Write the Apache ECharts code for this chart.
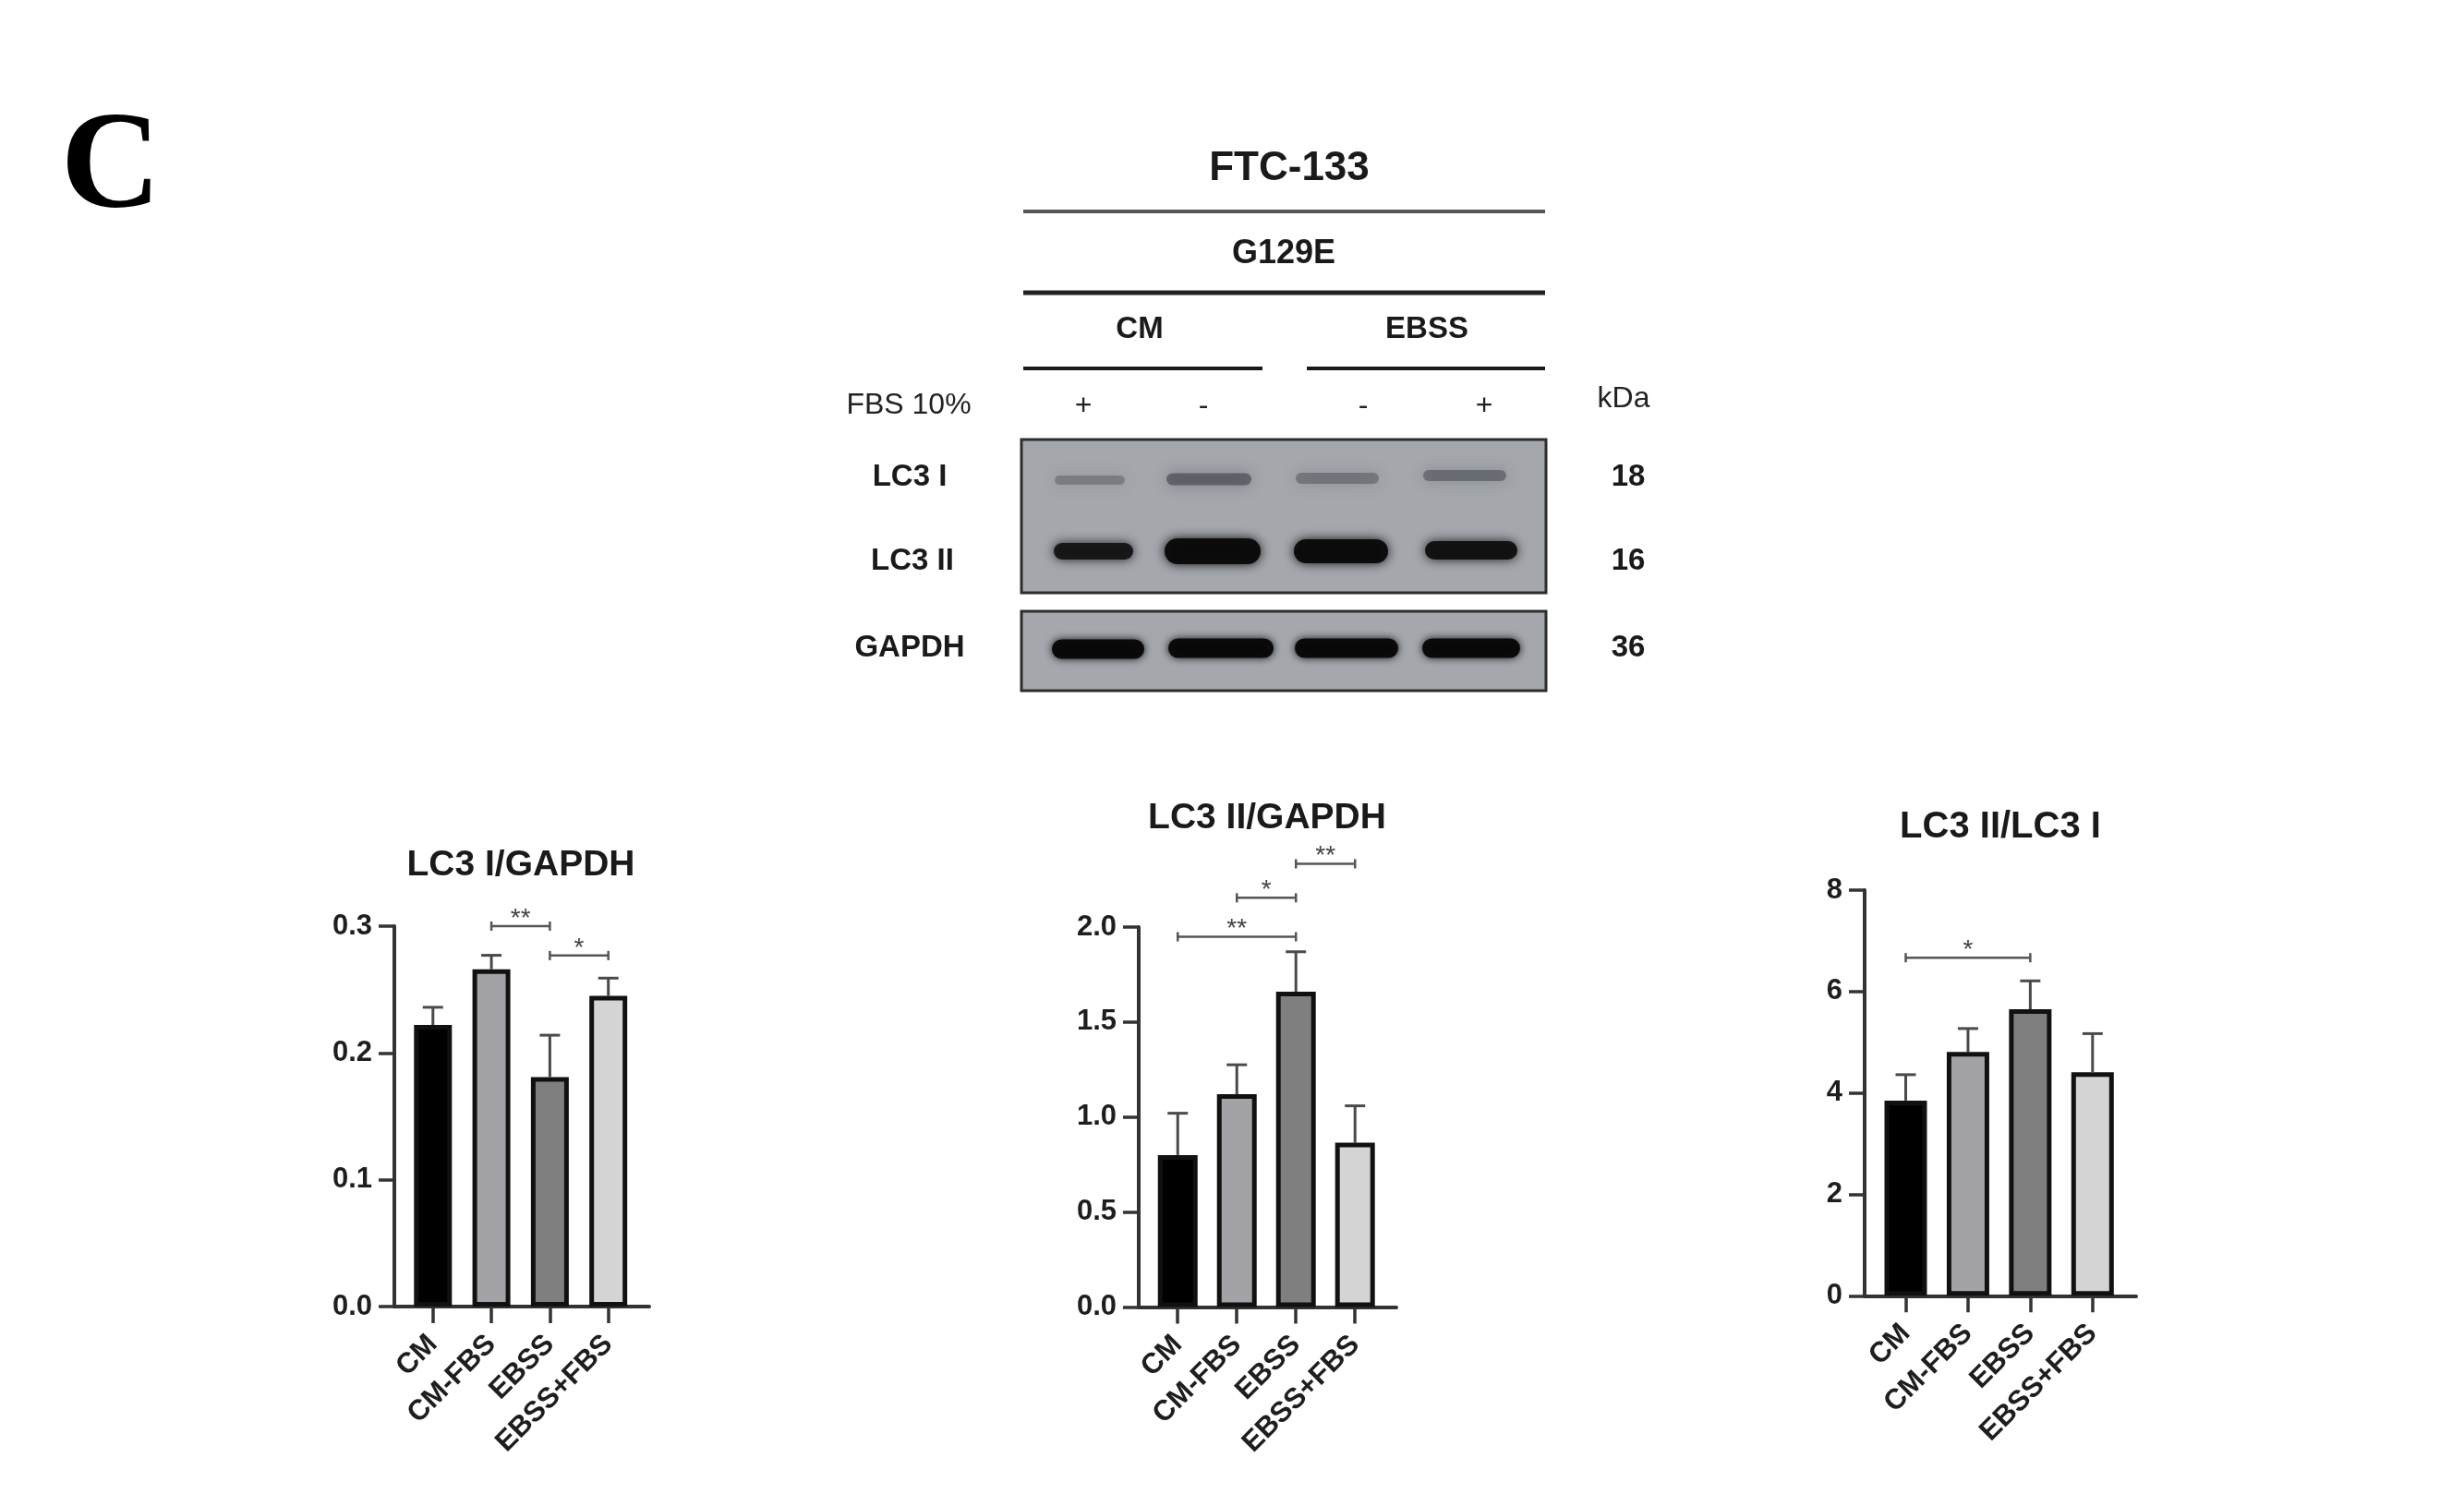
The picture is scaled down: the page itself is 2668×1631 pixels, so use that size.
<!DOCTYPE html>
<html><head><meta charset="utf-8">
<script src="https://cdn.jsdelivr.net/npm/echarts@6/dist/echarts.min.js"></script>
<style>html,body{margin:0;padding:0;background:#fff}#c{width:2668px;height:1631px}</style>
</head><body><div id="c"></div>
<script>
// ---- data ----
const categories = ['CM', 'CM-FBS', 'EBSS', 'EBSS+FBS'];
const lc3iGapdhMean = [0.222, 0.266, 0.181, 0.245];
const lc3iGapdhSd   = [0.014, 0.011, 0.033, 0.014];
const lc3iiGapdhMean = [0.80, 1.12, 1.66, 0.865];
const lc3iiGapdhSd   = [0.22, 0.155, 0.21, 0.194];
const ratioMean = [3.85, 4.81, 5.65, 4.41];
const ratioSd   = [0.51, 0.46, 0.56, 0.76];
// significance: [fromIndex, toIndex, bracketValue]
const lc3iSig = [[1, 2, 0.300], [2, 3, 0.2768]];
const lc3iSigLabels = ['**', '*'];
const lc3iiSig = [[0, 2, 1.949], [1, 2, 2.154], [2, 3, 2.333]];
const lc3iiSigLabels = ['**', '*', '**'];
const ratioSig = [[0, 2, 6.667]];
const ratioSigLabels = ['*'];
const lc3iTicks = [0, 0.1, 0.2, 0.3];
const lc3iiTicks = [0, 0.5, 1.0, 1.5, 2.0];
const ratioTicks = [0, 2, 4, 6, 8];
const chartTitles = ['LC3 I/GAPDH', 'LC3 II/GAPDH', 'LC3 II/LC3 I'];

// ---- styles ----
const FONT = '"Liberation Sans", Arial, Helvetica, sans-serif';
const barColors = ['#000000', '#a2a2a7', '#7f7f7f', '#d4d4d4'];
const AX = '#333333';

const panels = [
  {grid: {left: 427, top: 1003, width: 276, height: 412}, ticks: lc3iTicks, digits: 1,
   mean: lc3iGapdhMean, sd: lc3iGapdhSd, sig: lc3iSig, sigLabels: lc3iSigLabels, barWidth: 41,
   title: chartTitles[0], tx: 564, ty: 937, tfs: 39},
  {grid: {left: 1233, top: 1004, width: 279, height: 411.5}, ticks: lc3iiTicks, digits: 1,
   mean: lc3iiGapdhMean, sd: lc3iiGapdhSd, sig: lc3iiSig, sigLabels: lc3iiSigLabels, barWidth: 43,
   title: chartTitles[1], tx: 1372, ty: 886, tfs: 39},
  {grid: {left: 2019, top: 964, width: 294, height: 439.3}, ticks: ratioTicks, digits: 0,
   mean: ratioMean, sd: ratioSd, sig: ratioSig, sigLabels: ratioSigLabels, barWidth: 46,
   title: chartTitles[2], tx: 2166, ty: 896, tfs: 40}
];

function errRender(params, api) {
  const x = api.value(0), m = api.value(1), e = api.value(2);
  const p0 = api.coord([x, m]), p1 = api.coord([x, m + e]);
  const cap = 11;
  const st = {stroke: '#4a4a4a', lineWidth: 3};
  return {type: 'group', children: [
    {type: 'line', shape: {x1: p0[0], y1: p0[1], x2: p1[0], y2: p1[1]}, style: st},
    {type: 'line', shape: {x1: p1[0] - cap, y1: p1[1], x2: p1[0] + cap, y2: p1[1]}, style: st}
  ]};
}
function sigRenderFactory(labels) {
  return function (params, api) {
    const a = api.value(0), b = api.value(1), y = api.value(2);
    const p1 = api.coord([a, y]), p2 = api.coord([b, y]);
    const st = {stroke: '#555555', lineWidth: 2.5};
    return {type: 'group', children: [
      {type: 'line', shape: {x1: p1[0], y1: p1[1], x2: p2[0], y2: p2[1]}, style: st},
      {type: 'line', shape: {x1: p1[0], y1: p1[1] - 5, x2: p1[0], y2: p1[1] + 5}, style: st},
      {type: 'line', shape: {x1: p2[0], y1: p2[1] - 5, x2: p2[0], y2: p2[1] + 5}, style: st},
      {type: 'text', x: (p1[0] + p2[0]) / 2, y: p1[1] - 8,
       style: {text: labels[params.dataIndex], fill: '#444', font: '28px ' + FONT,
               align: 'center', verticalAlign: 'middle', textAlign: 'center', textVerticalAlign: 'middle'}}
    ]};
  };
}

const grids = [], xAxes = [], yAxes = [], series = [];
const catIdx = categories.map((c, i) => i);
panels.forEach((p, i) => {
  grids.push(p.grid);
  xAxes.push({
    gridIndex: i, type: 'value', min: -0.66, max: 3.7,
    axisLine: {show: true, onZero: false, lineStyle: {color: AX, width: 4}},
    axisTick: {show: true, customValues: catIdx, length: 18, lineStyle: {color: AX, width: 3.5}},
    axisLabel: {show: true, customValues: catIdx, rotate: 45, margin: 36, padding: [10, 0, 0, 0],
      formatter: v => categories[Math.round(v)] || '',
      fontFamily: FONT, fontWeight: 'bold', fontSize: 31, color: '#1e1e1e'},
    splitLine: {show: false}
  });
  const t = p.ticks;
  yAxes.push({
    gridIndex: i, type: 'value', min: t[0], max: t[t.length - 1], interval: t[1] - t[0],
    axisLine: {show: true, onZero: false, lineStyle: {color: AX, width: 4}},
    axisTick: {show: true, length: 17, lineStyle: {color: AX, width: 3.5}},
    axisLabel: {show: true, margin: 24, formatter: v => Number(v).toFixed(p.digits),
      fontFamily: FONT, fontWeight: 'bold', fontSize: 31, color: '#1e1e1e'},
    splitLine: {show: false}
  });
  series.push({
    type: 'bar', xAxisIndex: i, yAxisIndex: i, barWidth: p.barWidth,
    data: p.mean.map((v, k) => ({value: [k, v], itemStyle: {color: barColors[k]}})),
    itemStyle: {borderColor: '#111', borderWidth: 5},
    z: 3, silent: true
  });
  series.push({
    type: 'custom', xAxisIndex: i, yAxisIndex: i, renderItem: errRender, clip: false,
    data: p.mean.map((v, k) => [k, v, p.sd[k]]), encode: {x: 0, y: 1}, z: 2, silent: true
  });
  series.push({
    type: 'custom', xAxisIndex: i, yAxisIndex: i, renderItem: sigRenderFactory(p.sigLabels), clip: false,
    data: p.sig, encode: {x: [0, 1], y: 2}, z: 4, silent: true
  });
});

// ---- graphic: panel letter, titles, western blot ----
function txt(x, y, text, size, bold, family, color) {
  return {type: 'text', x: x, y: y, silent: true,
    style: {text: text, font: (bold ? 'bold ' : '') + size + 'px ' + (family || FONT), fill: color || '#1a1a1a',
            align: 'center', verticalAlign: 'middle', textAlign: 'center', textVerticalAlign: 'middle'}};
}
function hline(x1, x2, y, w, color) {
  return {type: 'line', silent: true, shape: {x1: x1, y1: y, x2: x2, y2: y}, style: {stroke: color, lineWidth: w}};
}
function band(cx, cy, w, h, color, blur) {
  return {type: 'rect', silent: true, shape: {x: cx - w / 2, y: cy - h / 2, width: w, height: h, r: h / 2},
    style: {fill: color, shadowBlur: blur, shadowColor: color}};
}
const g = [];
g.push(txt(120, 185, 'C', 150, true, '"Liberation Serif", "Times New Roman", serif', '#000'));
panels.forEach(p => g.push(txt(p.tx, p.ty, p.title, p.tfs, true)));
// header
g.push(txt(1396, 183, 'FTC-133', 44, true));
g.push(hline(1108, 1673, 229, 4, '#555'));
g.push(txt(1390, 275, 'G129E', 36, true));
g.push(hline(1108, 1673, 317, 5, '#222'));
g.push(txt(1234, 357, 'CM', 33, true));
g.push(txt(1545, 357, 'EBSS', 33, true));
g.push(hline(1108, 1367, 399, 4, '#1a1a1a'));
g.push(hline(1415, 1673, 399, 4, '#1a1a1a'));
g.push(txt(984, 439, 'FBS 10%', 32, false, null, '#222'));
g.push(txt(1173, 440, '+', 32, false, null, '#222'));
g.push(txt(1303, 440, '-', 32, false, null, '#222'));
g.push(txt(1476, 440, '-', 32, false, null, '#222'));
g.push(txt(1607, 440, '+', 32, false, null, '#222'));
g.push(txt(1758, 432, 'kDa', 32, false, null, '#222'));
// blot boxes
g.push({type: 'rect', silent: true, shape: {x: 1106, y: 476, width: 568, height: 166},
  style: {fill: '#a4a7ac', stroke: '#2d2d2d', lineWidth: 3}});
g.push({type: 'rect', silent: true, shape: {x: 1106, y: 662, width: 568, height: 86},
  style: {fill: '#a4a7ac', stroke: '#2d2d2d', lineWidth: 3}});
g.push(txt(985, 517, 'LC3 I', 33, true));
g.push(txt(988, 608, 'LC3 II', 33, true));
g.push(txt(985, 702, 'GAPDH', 33, true));
g.push(txt(1763, 517, '18', 33, true));
g.push(txt(1763, 608, '16', 33, true));
g.push(txt(1763, 702, '36', 33, true));
// bands LC3 I (faint, diffuse)
g.push(band(1180, 520, 76, 10, 'rgba(80,83,90,0.45)', 16));
g.push(band(1309, 519, 92, 13, 'rgba(62,64,72,0.6)', 16));
g.push(band(1448, 518, 90, 12, 'rgba(76,79,86,0.5)', 16));
g.push(band(1586, 515, 90, 12, 'rgba(70,73,80,0.55)', 16));
// bands LC3 II
g.push(band(1184, 597, 86, 18, 'rgba(20,20,20,0.95)', 12));
g.push(band(1313, 597, 104, 28, 'rgba(10,10,10,0.97)', 12));
g.push(band(1452, 597, 102, 26, 'rgba(10,10,10,0.97)', 12));
g.push(band(1593, 596, 100, 20, 'rgba(15,15,15,0.95)', 12));
// bands GAPDH
g.push(band(1189, 703, 100, 21, 'rgba(8,8,8,0.97)', 9));
g.push(band(1322, 702, 114, 21, 'rgba(8,8,8,0.97)', 9));
g.push(band(1458, 702, 112, 21, 'rgba(8,8,8,0.97)', 9));
g.push(band(1593, 702, 106, 21, 'rgba(8,8,8,0.97)', 9));

const chart = echarts.init(document.getElementById('c'), null, {renderer: 'canvas'});
chart.setOption({
  backgroundColor: '#ffffff',
  animation: false,
  grid: grids, xAxis: xAxes, yAxis: yAxes, series: series,
  graphic: {elements: g}
});
</script></body></html>
